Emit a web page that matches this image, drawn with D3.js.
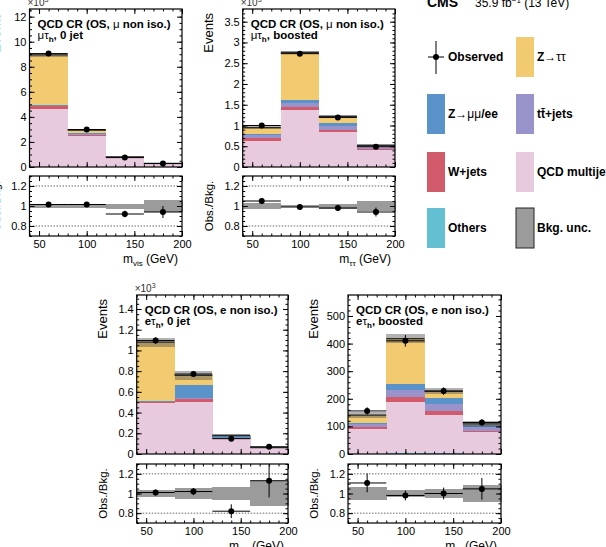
<!DOCTYPE html>
<html>
<head>
<meta charset="utf-8">
<script src="https://cdn.jsdelivr.net/npm/d3@7"></script>
<style>
  body { margin: 0; background: #fff; }
  svg { display: block; font-family: "Liberation Sans", Arial, Helvetica, sans-serif; }
</style>
</head>
<body>
<svg id="fig" width="606" height="547"></svg>
<script>
// bin edges shared by all four panels (GeV)
const binEdges = [40, 80, 120, 160, 200];

// mu-tau_h, 0 jet  (x10^3 events)
const mt0_others = [0.02, 0.02, 0.01, 0.002];
const mt0_qcd    = [4.59, 2.42, 0.72, 0.26];
const mt0_wjets  = [0.26, 0.08, 0.04, 0.015];
const mt0_ttbar  = [0.03, 0.10, 0.02, 0.005];
const mt0_zll    = [0.03, 0.08, 0.01, 0.003];
const mt0_ztt    = [4.02, 0.25, 0.02, 0.005];
const mt0_data   = [9.05, 2.99, 0.75, 0.273];
const mt0_unc    = [0.018, 0.02, 0.025, 0.06];
const mt0_ratio  = [1.015, 1.015, 0.92, 0.94];
const mt0_rerr   = [0.01, 0.018, 0.033, 0.06];

// mu-tau_h, boosted  (x10^3 events)
const mtb_others = [0.01, 0.01, 0.01, 0.01];
const mtb_qcd    = [0.62, 1.36, 0.83, 0.40];
const mtb_wjets  = [0.06, 0.08, 0.06, 0.03];
const mtb_ttbar  = [0.07, 0.09, 0.08, 0.03];
const mtb_zll    = [0.03, 0.07, 0.08, 0.02];
const mtb_ztt    = [0.16, 1.15, 0.16, 0.03];
const mtb_data   = [1.0, 2.73, 1.195, 0.49];
const mtb_unc    = [0.03, 0.012, 0.025, 0.05];
const mtb_ratio  = [1.05, 0.99, 0.98, 0.94];
const mtb_rerr   = [0.03, 0.018, 0.028, 0.045];

// e-tau_h, 0 jet  (x10^3 events)
const et0_others = [0.003, 0.002, 0.001, 0.0005];
const et0_qcd    = [0.49, 0.503, 0.14, 0.055];
const et0_wjets  = [0.005, 0.025, 0.01, 0.003];
const et0_ttbar  = [0.005, 0.01, 0.005, 0.001];
const et0_zll    = [0.007, 0.13, 0.015, 0.0015];
const et0_ztt    = [0.57, 0.09, 0.009, 0.001];
const et0_data   = [1.095, 0.772, 0.148, 0.07];
const et0_unc    = [0.04, 0.06, 0.07, 0.13];
const et0_ratio  = [1.01, 1.02, 0.82, 1.13];
const et0_rerr   = [0.03, 0.036, 0.07, 0.17];

// e-tau_h, boosted  (events)
const etb_others = [1, 2, 2, 1];
const etb_qcd    = [90, 188, 140, 79];
const etb_wjets  = [7, 18, 12, 5];
const etb_ttbar  = [10, 25, 28, 13];
const etb_zll    = [5, 22, 20, 6];
const etb_ztt    = [28, 163, 26, 5];
const etb_data   = [156, 410, 228, 114];
const etb_unc    = [0.07, 0.04, 0.05, 0.09];
const etb_ratio  = [1.107, 0.98, 1.0, 1.047];
const etb_rerr   = [0.095, 0.05, 0.06, 0.11];

const layerKeys = ["others", "qcd", "wjets", "ttbar", "zll", "ztt"];
const layerColor = {
    others: "#63bfd2", qcd: "#e8cade", wjets: "#d25b6b",
    ttbar: "#9993cc", zll: "#5993c9", ztt: "#f2ca70"
};

const svg = d3.select("#fig");
const fmt = d => String(+d.toFixed(2));

const panels = [
    {
        left: 29.5, right: 182, top: 9, bottom: 167, rTop: 176, rBottom: 236,
        ymax: 12.61, yMajor: d3.range(0, 12.01, 2), yMinor: d3.range(0, 12.6, 0.5), exp: true,
        layers: [mt0_others, mt0_qcd, mt0_wjets, mt0_ttbar, mt0_zll, mt0_ztt],
        data: mt0_data, unc: mt0_unc, ratio: mt0_ratio, rerr: mt0_rerr,
        line1: [{t: "QCD CR (OS, "}, {t: "\u03bc", w: "normal"}, {t: " non iso.)"}],
        line2: [{t: "\u03bc\u03c4", w: "normal"}, {t: "h", sub: true}, {t: ", 0 jet"}],
        xsub: "vis"
    },
    {
        left: 242.7, right: 395, top: 9, bottom: 167, rTop: 176, rBottom: 236,
        ymax: 3.806, yMajor: d3.range(0, 3.51, 0.5), yMinor: d3.range(0, 3.8, 0.1), exp: true,
        layers: [mtb_others, mtb_qcd, mtb_wjets, mtb_ttbar, mtb_zll, mtb_ztt],
        data: mtb_data, unc: mtb_unc, ratio: mtb_ratio, rerr: mtb_rerr,
        line1: [{t: "QCD CR (OS, "}, {t: "\u03bc", w: "normal"}, {t: " non iso.)"}],
        line2: [{t: "\u03bc\u03c4", w: "normal"}, {t: "h", sub: true}, {t: ", boosted"}],
        xsub: "\u03c4\u03c4"
    },
    {
        left: 136.7, right: 288, top: 295, bottom: 454, rTop: 464, rBottom: 523,
        ymax: 1.535, yMajor: d3.range(0, 1.41, 0.2), yMinor: d3.range(0, 1.53, 0.05), exp: true,
        layers: [et0_others, et0_qcd, et0_wjets, et0_ttbar, et0_zll, et0_ztt],
        data: et0_data, unc: et0_unc, ratio: et0_ratio, rerr: et0_rerr,
        line1: [{t: "QCD CR (OS, e non iso.)"}],
        line2: [{t: "e"}, {t: "\u03c4", w: "normal"}, {t: "h", sub: true}, {t: ", 0 jet"}],
        xsub: "vis"
    },
    {
        left: 348, right: 501, top: 295, bottom: 454, rTop: 464, rBottom: 523,
        ymax: 576, yMajor: d3.range(0, 501, 100), yMinor: d3.range(0, 576, 20), exp: false,
        layers: [etb_others, etb_qcd, etb_wjets, etb_ttbar, etb_zll, etb_ztt],
        data: etb_data, unc: etb_unc, ratio: etb_ratio, rerr: etb_rerr,
        line1: [{t: "QCD CR (OS, e non iso.)"}],
        line2: [{t: "e"}, {t: "\u03c4", w: "normal"}, {t: "h", sub: true}, {t: ", boosted"}],
        xsub: "\u03c4\u03c4"
    }
];

function addRich(text, segs) {
    let shift = 0;
    segs.forEach(s => {
        const ts = text.append("tspan").text(s.t);
        if (s.w) ts.attr("font-weight", s.w);
        if (s.sub) {
            ts.attr("font-size", "0.7em").attr("dy", 3);
            shift = 3;
        } else if (shift) {
            ts.attr("dy", -shift);
            shift = 0;
        }
    });
}

function styleAxis(g, size) {
    g.attr("font-family", null).attr("font-size", size || 11);
    g.select(".domain").remove();
    g.selectAll(".tick line").attr("stroke", "#000");
    g.selectAll(".tick text").attr("fill", "#000");
}

function frameAxes(g, x, y, b, t, l, r, yMajor, yMinor, xLabels, yFmt) {
    const major = 5, minor = 2.5;
    g.append("g").attr("transform", `translate(0,${b})`)
        .call(d3.axisBottom(x).tickValues([50, 100, 150, 200]).tickSizeInner(-major).tickSizeOuter(0)
            .tickPadding(4).tickFormat(xLabels ? d => d : ""))
        .call(a => styleAxis(a));
    g.append("g").attr("transform", `translate(0,${b})`)
        .call(d3.axisBottom(x).tickValues(d3.range(40, 201, 10)).tickSizeInner(-minor).tickSizeOuter(0).tickFormat(""))
        .call(a => styleAxis(a));
    g.append("g").attr("transform", `translate(0,${t})`)
        .call(d3.axisTop(x).tickValues([50, 100, 150, 200]).tickSizeInner(-major).tickSizeOuter(0).tickFormat(""))
        .call(a => styleAxis(a));
    g.append("g").attr("transform", `translate(0,${t})`)
        .call(d3.axisTop(x).tickValues(d3.range(40, 201, 10)).tickSizeInner(-minor).tickSizeOuter(0).tickFormat(""))
        .call(a => styleAxis(a));
    g.append("g").attr("transform", `translate(${l},0)`)
        .call(d3.axisLeft(y).tickValues(yMajor).tickSizeInner(-major).tickSizeOuter(0).tickPadding(3).tickFormat(yFmt))
        .call(a => styleAxis(a));
    g.append("g").attr("transform", `translate(${l},0)`)
        .call(d3.axisLeft(y).tickValues(yMinor).tickSizeInner(-minor).tickSizeOuter(0).tickFormat(""))
        .call(a => styleAxis(a));
    g.append("g").attr("transform", `translate(${r},0)`)
        .call(d3.axisRight(y).tickValues(yMajor).tickSizeInner(-major).tickSizeOuter(0).tickFormat(""))
        .call(a => styleAxis(a));
    g.append("g").attr("transform", `translate(${r},0)`)
        .call(d3.axisRight(y).tickValues(yMinor).tickSizeInner(-minor).tickSizeOuter(0).tickFormat(""))
        .call(a => styleAxis(a));
    g.append("rect").attr("x", l).attr("y", t).attr("width", r - l).attr("height", b - t)
        .attr("fill", "none").attr("stroke", "#000").attr("stroke-width", 1.2);
}

panels.forEach((p, pi) => {
    const g = svg.append("g");
    const x = d3.scaleLinear().domain([40, 200]).range([p.left, p.right]);
    const y = d3.scaleLinear().domain([0, p.ymax]).range([p.bottom, p.top]);
    const yr = d3.scaleLinear().domain([0.7, 1.3]).range([p.rBottom, p.rTop]);
    const bins = d3.range(binEdges.length - 1);

    const rows = bins.map(i => {
        const o = {};
        layerKeys.forEach((k, j) => o[k] = p.layers[j][i]);
        return o;
    });
    const stacked = d3.stack().keys(layerKeys)(rows);
    const totals = rows.map(r => d3.sum(layerKeys, k => r[k]));

    const clipId = "clip" + pi;
    svg.append("clipPath").attr("id", clipId).append("rect")
        .attr("x", p.left).attr("y", p.top).attr("width", p.right - p.left).attr("height", p.bottom - p.top);
    const plot = g.append("g").attr("clip-path", `url(#${clipId})`);

    // stacked backgrounds
    stacked.forEach(layer => {
        plot.append("g").attr("shape-rendering", "crispEdges")
            .selectAll("rect").data(layer).join("rect")
            .attr("x", (d, i) => x(binEdges[i]))
            .attr("width", (d, i) => x(binEdges[i + 1]) - x(binEdges[i]) + 0.5)
            .attr("y", d => y(d[1]))
            .attr("height", d => y(d[0]) - y(d[1]))
            .attr("fill", layerColor[layer.key]);
    });

    // bkg uncertainty band + total line
    plot.append("g").attr("shape-rendering", "crispEdges")
        .selectAll("rect").data(totals).join("rect")
        .attr("x", (d, i) => x(binEdges[i]))
        .attr("width", (d, i) => x(binEdges[i + 1]) - x(binEdges[i]))
        .attr("y", (d, i) => y(d * (1 + p.unc[i])))
        .attr("height", (d, i) => y(d * (1 - p.unc[i])) - y(d * (1 + p.unc[i])))
        .attr("fill", "#555").attr("opacity", 0.45);
    plot.append("g").selectAll("line").data(totals).join("line")
        .attr("x1", (d, i) => x(binEdges[i])).attr("x2", (d, i) => x(binEdges[i + 1]))
        .attr("y1", d => y(d)).attr("y2", d => y(d))
        .attr("stroke", "#2a2a2a").attr("stroke-width", 1.2);

    // observed
    const obs = plot.append("g");
    obs.selectAll(".h").data(p.data).join("line")
        .attr("x1", (d, i) => x(binEdges[i])).attr("x2", (d, i) => x(binEdges[i + 1]))
        .attr("y1", d => y(d)).attr("y2", d => y(d))
        .attr("stroke", "#000").attr("stroke-width", 1);
    obs.selectAll(".v").data(p.data).join("line")
        .attr("x1", (d, i) => x((binEdges[i] + binEdges[i + 1]) / 2))
        .attr("x2", (d, i) => x((binEdges[i] + binEdges[i + 1]) / 2))
        .attr("y1", (d, i) => y(d + p.rerr[i] * totals[i]))
        .attr("y2", (d, i) => y(d - p.rerr[i] * totals[i]))
        .attr("stroke", "#000").attr("stroke-width", 1);
    obs.selectAll("circle").data(p.data).join("circle")
        .attr("cx", (d, i) => x((binEdges[i] + binEdges[i + 1]) / 2))
        .attr("cy", d => y(d)).attr("r", 3).attr("fill", "#000");

    frameAxes(g, x, y, p.bottom, p.top, p.left, p.right, p.yMajor, p.yMinor, false, fmt);

    // ratio panel
    const rp = g.append("g");
    [0.8, 1.0, 1.2].forEach(v => {
        rp.append("line").attr("x1", p.left).attr("x2", p.right).attr("y1", yr(v)).attr("y2", yr(v))
            .attr("stroke", "#444").attr("stroke-width", 0.8).attr("stroke-dasharray", "1.5,1.5");
    });
    rp.append("g").attr("shape-rendering", "crispEdges")
        .selectAll("rect").data(p.unc).join("rect")
        .attr("x", (d, i) => x(binEdges[i]))
        .attr("width", (d, i) => x(binEdges[i + 1]) - x(binEdges[i]) + 0.5)
        .attr("y", d => yr(1 + d))
        .attr("height", d => yr(1 - d) - yr(1 + d))
        .attr("fill", "#9b9b9b");
    rp.selectAll(".rh").data(p.ratio).join("line")
        .attr("x1", (d, i) => x(binEdges[i])).attr("x2", (d, i) => x(binEdges[i + 1]))
        .attr("y1", d => yr(d)).attr("y2", d => yr(d))
        .attr("stroke", "#000").attr("stroke-width", 1);
    rp.selectAll(".rv").data(p.ratio).join("line")
        .attr("x1", (d, i) => x((binEdges[i] + binEdges[i + 1]) / 2))
        .attr("x2", (d, i) => x((binEdges[i] + binEdges[i + 1]) / 2))
        .attr("y1", (d, i) => yr(d + p.rerr[i]))
        .attr("y2", (d, i) => yr(d - p.rerr[i]))
        .attr("stroke", "#000").attr("stroke-width", 1);
    rp.selectAll("circle").data(p.ratio).join("circle")
        .attr("cx", (d, i) => x((binEdges[i] + binEdges[i + 1]) / 2))
        .attr("cy", d => yr(d)).attr("r", 3).attr("fill", "#000");

    frameAxes(g, x, yr, p.rBottom, p.rTop, p.left, p.right, [0.8, 1, 1.2], d3.range(0.7, 1.31, 0.05), true, fmt);

    // texts
    if (p.exp) {
        const e = g.append("text").attr("x", p.left - 2).attr("y", p.top - 3)
            .attr("font-size", 10).attr("fill", "#333");
        e.append("tspan").text("\u00d710");
        e.append("tspan").text("3").attr("font-size", 7).attr("dy", -4);
    }
    const l1 = g.append("text").attr("x", p.left + 8).attr("y", p.top + 19)
        .attr("font-size", 11.5).attr("font-weight", "bold");
    addRich(l1, p.line1);
    const l2 = g.append("text").attr("x", p.left + 8).attr("y", p.top + 30)
        .attr("font-size", 11.5).attr("font-weight", "bold");
    addRich(l2, p.line2);

    g.append("text").attr("transform", `translate(${p.left - 30},${p.top + 4}) rotate(-90)`)
        .attr("text-anchor", "end").attr("font-size", 13).text("Events");
    g.append("text").attr("transform", `translate(${p.left - 30},${(p.rTop + p.rBottom) / 2}) rotate(-90)`)
        .attr("text-anchor", "middle").attr("font-size", 11.5).text("Obs./Bkg.");

    const xt = g.append("text").attr("x", p.right - 4).attr("y", p.rBottom + 27)
        .attr("text-anchor", "end").attr("font-size", 12);
    xt.append("tspan").text("m");
    xt.append("tspan").text(p.xsub).attr("font-size", 8).attr("dy", 3);
    xt.append("tspan").text(" (GeV)").attr("dy", -3);
});

// header
svg.append("text").attr("x", 427).attr("y", 7).attr("font-size", 14).attr("font-weight", "bold").text("CMS");
const lumi = svg.append("text").attr("x", 475).attr("y", 7).attr("font-size", 12);
lumi.append("tspan").text("35.9 fb");
lumi.append("tspan").text("\u22121").attr("font-size", 8).attr("dy", -4);
lumi.append("tspan").text(" (13 TeV)").attr("dy", 4);

// legend
const legend = svg.append("g").attr("font-size", 12).attr("font-weight", "bold");
const legendItems = [
    {col: 0, row: 0, obs: true, segs: [{t: "Observed"}]},
    {col: 1, row: 0, key: "ztt", segs: [{t: "Z"}, {t: "\u2192\u03c4\u03c4", w: "normal"}]},
    {col: 0, row: 1, key: "zll", segs: [{t: "Z"}, {t: "\u2192\u03bc\u03bc", w: "normal"}, {t: "/ee"}]},
    {col: 1, row: 1, key: "ttbar", segs: [{t: "tt\u0304+jets"}]},
    {col: 0, row: 2, key: "wjets", segs: [{t: "W+jets"}]},
    {col: 1, row: 2, key: "qcd", segs: [{t: "QCD multijet"}]},
    {col: 0, row: 3, key: "others", segs: [{t: "Others"}]},
    {col: 1, row: 3, unc: true, segs: [{t: "Bkg. unc."}]}
];
const rowTop = [37, 94, 152, 208];
const colX = [427, 516];
legendItems.forEach(it => {
    const bx = colX[it.col], by = rowTop[it.row];
    if (it.obs) {
        legend.append("line").attr("x1", bx + 9).attr("x2", bx + 9).attr("y1", by + 4).attr("y2", by + 37)
            .attr("stroke", "#000").attr("stroke-width", 1);
        legend.append("line").attr("x1", bx + 1).attr("x2", bx + 17).attr("y1", by + 20).attr("y2", by + 20)
            .attr("stroke", "#000").attr("stroke-width", 1);
        legend.append("circle").attr("cx", bx + 9).attr("cy", by + 20).attr("r", 3).attr("fill", "#000");
    } else {
        legend.append("rect").attr("x", bx).attr("y", by).attr("width", 18).attr("height", 40)
            .attr("fill", it.unc ? "#9b9b9b" : layerColor[it.key])
            .attr("stroke", it.unc ? "#222" : "none").attr("stroke-width", 1);
    }
    const t = legend.append("text").attr("x", bx + 21).attr("y", by + 24);
    addRich(t, it.segs);
});
</script>
</body>
</html>
